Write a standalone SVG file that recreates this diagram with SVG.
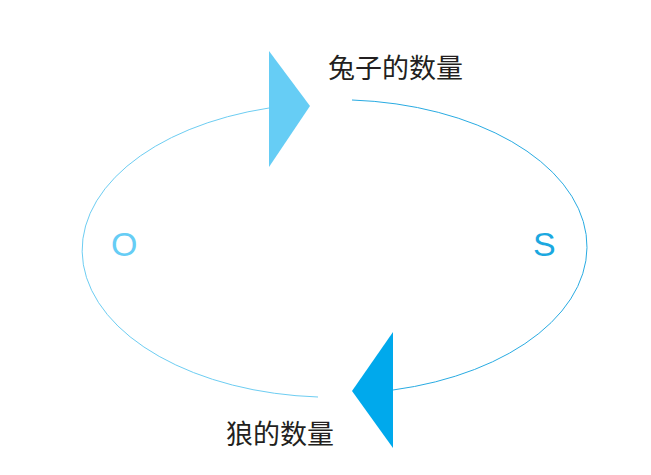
<svg xmlns="http://www.w3.org/2000/svg" width="651" height="475" viewBox="0 0 651 475">
<style>
.arc{fill:none;stroke-width:1}
.lbl{font-family:"Liberation Sans","Noto Sans CJK SC",sans-serif;font-size:27px;fill:#231f20}
.let{font-family:"Liberation Sans",sans-serif;font-size:34px}
</style>
<rect width="651" height="475" fill="#ffffff"/>
<g id="connectors">
<path class="arc" stroke="#6dcdf2" d="M318,397 A250,147 0 0 1 269,108"/>
<path class="arc" stroke="#29abe2" d="M352,100 A250,147 0 0 1 393,390"/>
</g>
<g id="rabbit">
<polygon points="269,51 310,106 269,167" fill="#66cdf5"/>
<text class="lbl" x="328" y="78">兔子的数量</text>
</g>
<g id="wolf">
<polygon points="393,332 352,391 393,448" fill="#00a9ec"/>
<text class="lbl" x="226" y="444">狼的数量</text>
</g>
<g id="O">
<text class="let" x="111" y="256" fill="#66cdf5">O</text>
</g>
<g id="S">
<text class="let" x="533" y="256" fill="#1ba8e0">S</text>
</g>
</svg>
